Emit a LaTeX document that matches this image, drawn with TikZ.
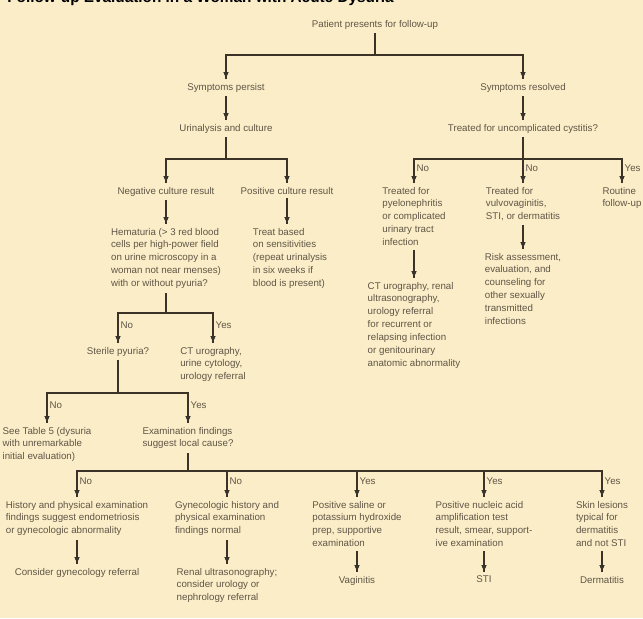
\documentclass[tikz,border=0pt]{standalone}
\usepackage{fontspec}
\setmainfont{Liberation Sans}
\usetikzlibrary{arrows.meta, decorations.markings}
\definecolor{paper}{RGB}{250,237,200}
\definecolor{ink}{RGB}{96,86,70}
\definecolor{wire}{RGB}{60,50,40}
\tikzstyle{Box} = [text=ink, font=\fontsize{7.3}{9.7}\selectfont,
inner sep=0pt, outer sep=3pt, anchor=north, align=left]
\tikzstyle{Tag} = [text=ink, font=\fontsize{7.3}{9}\selectfont,
inner sep=1.5pt, anchor=west]
\tikzstyle{Link} = [draw=wire, line width=1pt]
\tikzstyle{Arrow} = [
Link,
decoration={
markings,
mark=at position 0.9999 with {
\arrow{Triangle[length=5.5pt,width=4.6pt,color=black!85]}}},
preaction = {decorate}]

\begin{document}
\begin{tikzpicture}[x=0.75pt, y=-0.75pt]
    \useasboundingbox (0,0) rectangle (643,618);
    \fill[paper] (0,0) rectangle (643,618);
    \clip (0,0) rectangle (643,618);

    \node [anchor=base west, inner sep=0pt, font=\fontsize{11.5}{13}\selectfont\bfseries] (title) at (7,2)
        {Follow-up Evaluation in a Woman with Acute Dysuria};

    \node [Box] (pat) at (375,16) {Patient presents for follow-up};
    \node [Box] (persist) at (226,79) {Symptoms persist};
    \node [Box] (resolved) at (523,79) {Symptoms resolved};
    \node [Box] (urin) at (226,120) {Urinalysis and culture};
    \node [Box] (cyst) at (523,120) {Treated for uncomplicated cystitis?};

    \node [Box] (neg) at (166,183) {Negative culture result};
    \node [Box] (pos) at (287,183) {Positive culture result};
    \node [Box] (hem) at (166,224) {Hematuria (\textgreater\ 3 red blood\\cells per high-power field\\on urine microscopy in a\\woman not near menses)\\with or without pyuria?};
    \node [Box] (treat) at (290,224) {Treat based\\on sensitivities\\(repeat urinalysis\\in six weeks if\\blood is present)};

    \node [Box] (pyelo) at (414,183) {Treated for\\pyelonephritis\\or complicated\\urinary tract\\infection};
    \node [Box] (vulvo) at (523,183) {Treated for\\vulvovaginitis,\\STI, or dermatitis};
    \node [Box] (routine) at (622,183) {Routine\\follow-up};
    \node [Box] (ctuti) at (414,278) {CT urography, renal\\ultrasonography,\\urology referral\\for recurrent or\\relapsing infection\\or genitourinary\\anatomic abnormality};
    \node [Box] (risk) at (523,249) {Risk assessment,\\evaluation, and\\counseling for\\other sexually\\transmitted\\infections};

    \node [Box] (sterile) at (118,343) {Sterile pyuria?};
    \node [Box] (ctcyto) at (213,343) {CT urography,\\urine cytology,\\urology referral};
    \node [Box] (table5) at (47,423) {See Table 5 (dysuria\\with unremarkable\\initial evaluation)};
    \node [Box] (exam) at (188,423) {Examination findings\\suggest local cause?};

    \node [Box] (hist) at (77,497) {History and physical examination\\findings suggest endometriosis\\or gynecologic abnormality};
    \node [Box] (gyn) at (227,497) {Gynecologic history and\\physical examination\\findings normal};
    \node [Box] (saline) at (357,497) {Positive saline or\\potassium hydroxide\\prep, supportive\\examination};
    \node [Box] (naat) at (484,497) {Positive nucleic acid\\amplification test\\result, smear, support-\\ive examination};
    \node [Box] (skin) at (602,497) {Skin lesions\\typical for\\dermatitis\\and not STI};

    \node [Box] (consider) at (77,564) {Consider gynecology referral};
    \node [Box] (renal) at (227,564) {Renal ultrasonography;\\consider urology or\\nephrology referral};
    \node [Box] (vag) at (357,572) {Vaginitis};
    \node [Box] (sti) at (484,572) {STI};
    \node [Box] (derm) at (602,572) {Dermatitis};

    \coordinate (j0) at (375,55);
    \coordinate (j1) at (226,159);
    \coordinate (j2) at (523,159);
    \coordinate (j3) at (166,313);
    \coordinate (j4) at (118,393);
    \coordinate (j5) at (188,471);

    \draw[Link] (pat.south) -- (j0);
    \draw[Arrow] (j0) -| (persist.north);
    \draw[Arrow] (j0) -| (resolved.north);
    \draw[Arrow] (persist.south) -- (urin.north);
    \draw[Arrow] (resolved.south) -- (cyst.north);

    \draw[Link] (urin.south) -- (j1);
    \draw[Arrow] (j1) -| (neg.north);
    \draw[Arrow] (j1) -| (pos.north);
    \draw[Arrow] (neg.south) -- (hem.north);
    \draw[Arrow] (pos.south) -- (pos.south |- treat.north);

    \draw[Link] (cyst.south) -- (j2);
    \draw[Arrow] (j2) -| node[Tag, pos=0.7] {No} (pyelo.north);
    \draw[Arrow] (j2) -| node[Tag, pos=0.7] {No} (vulvo.north);
    \draw[Arrow] (j2) -| node[Tag, pos=0.7] {Yes} (routine.north);
    \draw[Arrow] (pyelo.south) -- (ctuti.north);
    \draw[Arrow] (vulvo.south) -- (risk.north);

    \draw[Link] (hem.south) -- (j3);
    \draw[Arrow] (j3) -| node[Tag, pos=0.7] {No} (sterile.north);
    \draw[Arrow] (j3) -| node[Tag, pos=0.7] {Yes} (ctcyto.north);

    \draw[Link] (sterile.south) -- (j4);
    \draw[Arrow] (j4) -| node[Tag, pos=0.7] {No} (table5.north);
    \draw[Arrow] (j4) -| node[Tag, pos=0.7] {Yes} (exam.north);

    \draw[Link] (exam.south) -- (j5);
    \draw[Arrow] (j5) -| node[Tag, pos=0.7] {No} (hist.north);
    \draw[Arrow] (j5) -| node[Tag, pos=0.7] {No} (gyn.north);
    \draw[Arrow] (j5) -| node[Tag, pos=0.7] {Yes} (saline.north);
    \draw[Arrow] (j5) -| node[Tag, pos=0.7] {Yes} (naat.north);
    \draw[Arrow] (j5) -| node[Tag, pos=0.7] {Yes} (skin.north);
    \draw[Arrow] (hist.south) -- (consider.north);
    \draw[Arrow] (gyn.south) -- (renal.north);
    \draw[Arrow] (saline.south) -- (vag.north);
    \draw[Arrow] (naat.south) -- (sti.north);
    \draw[Arrow] (skin.south) -- (derm.north);
\end{tikzpicture}
\end{document}
